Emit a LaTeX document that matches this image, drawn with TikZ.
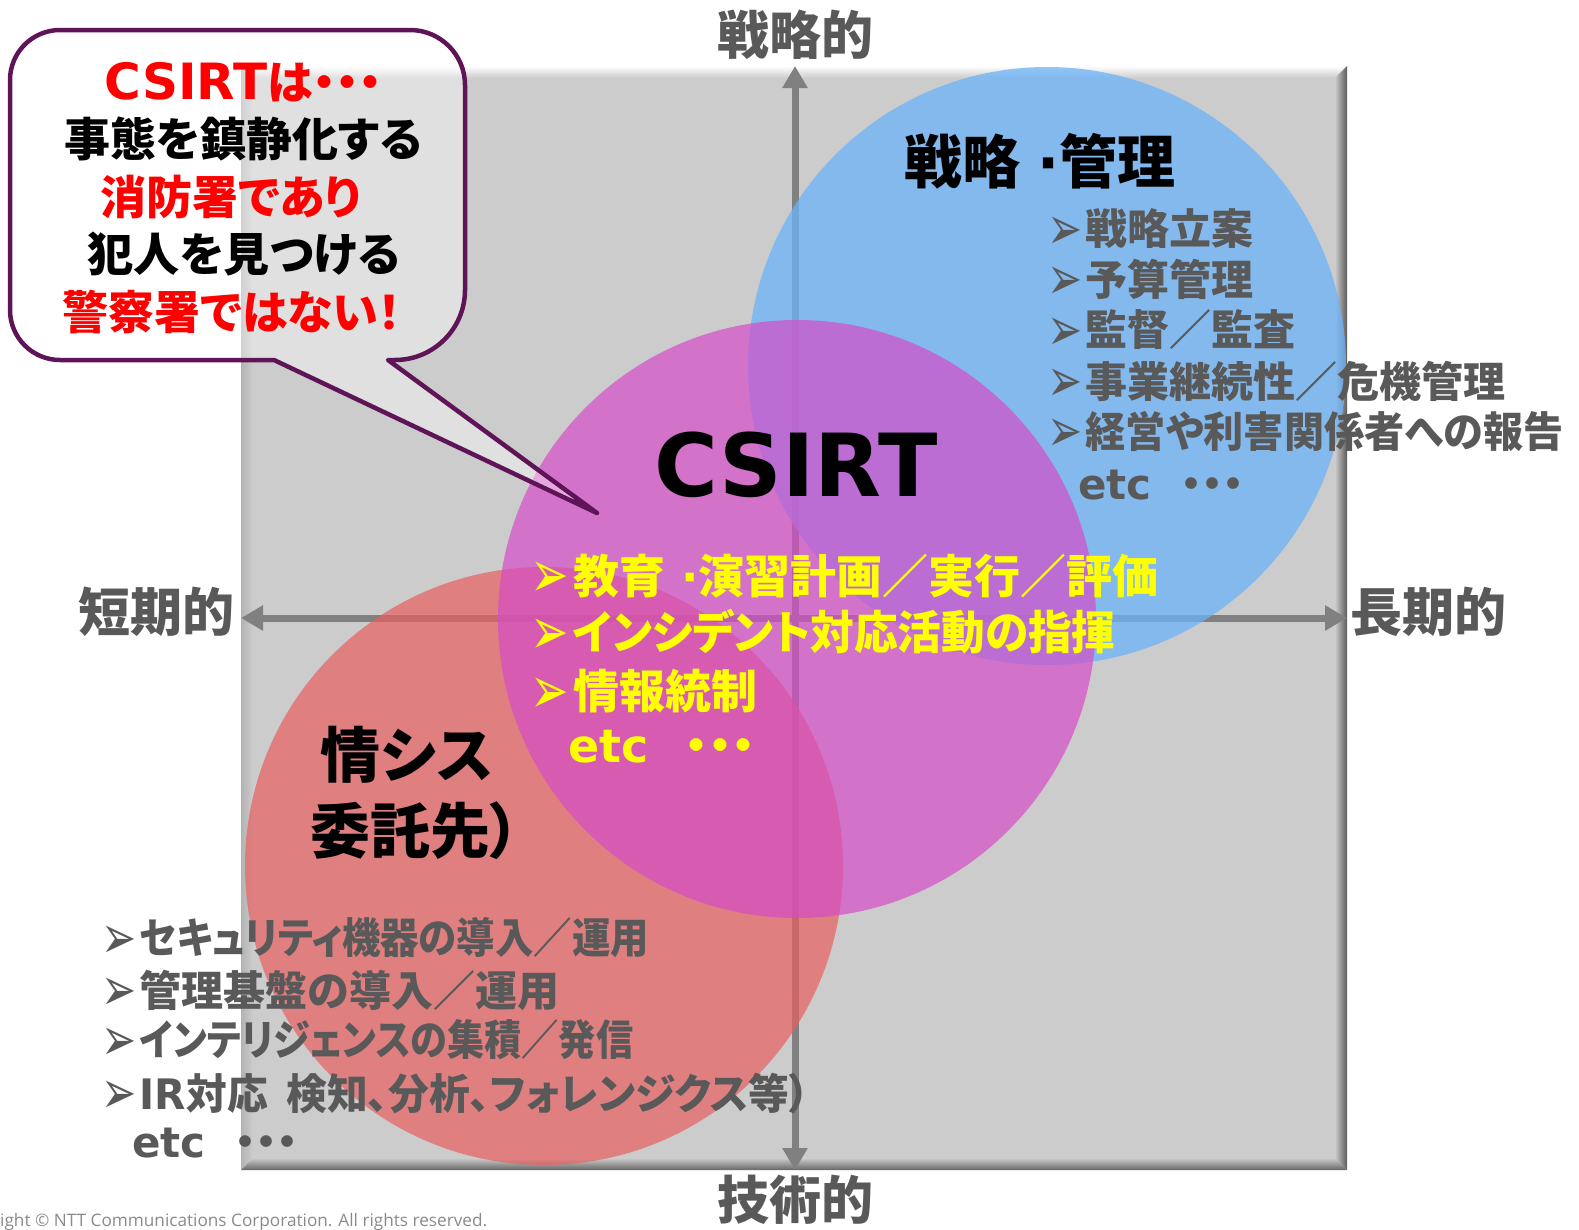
\documentclass[tikz,border=0pt]{standalone}
\usepackage{fontspec}
\usepackage{graphicx}
\usetikzlibrary{arrows.meta}
\newfontfamily\jp{Noto Sans CJK JP}[RawFeature=+palt]
\newfontfamily\jpf{Noto Sans CJK JP}
\newfontfamily\vd{DejaVu Sans}
\newfontfamily\os{Open Sans}
\definecolor{txtgray}{HTML}{595959}
\definecolor{axisgray}{HTML}{808080}
\definecolor{sqgray}{HTML}{CCCCCC}
\definecolor{cblue}{RGB}{109,179,249}
\definecolor{cmag}{RGB}{213,77,200}
\definecolor{cred}{RGB}{233,95,95}
\definecolor{callborder}{RGB}{96,20,88}
\definecolor{yel}{HTML}{FFFF00}
\definecolor{redtxt}{HTML}{FF0000}
\definecolor{copygray}{HTML}{8A8A8A}
\newcommand\arw{\makebox[0.8em][l]{\hspace{-0.12em}\smash{\raisebox{-0.1em}{\scalebox{1.0}[1.45]{\vd\bfseries ➢}}}}}
\newcommand\sx[2]{\scalebox{#1}[1]{#2}}
\newcommand\mdot{{\vd\bfseries ·}}
\tikzset{
  circ/.style={circle, minimum size=598pt, inner sep=0pt, draw=none},
  axisline/.style={draw=axisgray, line width=7pt, {Triangle[length=22pt,width=24pt]}-{Triangle[length=22pt,width=24pt]}},
  axlabel/.style={font=\jp\bfseries\fontsize{52}{60}\selectfont, text=txtgray, inner sep=0pt},
  graylist/.style={anchor=west, inner sep=0pt, font=\jp\bfseries\fontsize{42}{50}\selectfont, text=txtgray},
  yellist/.style={anchor=west, inner sep=0pt, font=\jp\bfseries\fontsize{46}{54}\selectfont, text=yel},
  calltext/.style={inner sep=0pt, font=\jp\bfseries\fontsize{46}{54}\selectfont},
  bigtitle/.style={inner sep=0pt, font=\jp\bfseries\fontsize{#1}{#1}\selectfont},
}
\begin{document}
\begin{tikzpicture}[x=1pt,y=-1pt]
\useasboundingbox (0,0) rectangle (1579,1229);
% square with bevel
\fill[sqgray] (241,66) rectangle (1347,1170);
\shade[left color=black!30, middle color=white, right color=sqgray] (241,66) -- (253,78) -- (253,1158) -- (241,1170) -- cycle;
\shade[top color=white, middle color=black!12, bottom color=sqgray] (241,66) -- (1347,66) -- (1335,78) -- (253,78) -- cycle;
\shade[left color=sqgray, right color=black!65] (1347,66) -- (1347,1170) -- (1335,1158) -- (1335,78) -- cycle;
\shade[top color=sqgray, bottom color=black!60] (241,1170) -- (1347,1170) -- (1335,1158) -- (253,1158) -- cycle;
% axes
\coordinate (vt) at (795,66);
\coordinate (vb) at (795,1170);
\coordinate (hl) at (241,618);
\coordinate (hr) at (1347,618);
\draw[axisline] (vt) -- (vb);
\draw[axisline] (hl) -- (hr);
\node[axlabel] (ltop) at (795,35) {戦略的};
\node[axlabel] (lbot) at (795,1200) {技術的};
\node[axlabel] (lleft) at (156,612) {短期的};
\node[axlabel] (lright) at (1428,612) {長期的};
% circles
\node[circ, fill=cred, fill opacity=0.7] (red) at (544,866) {};
\node[circ, fill=cblue, fill opacity=0.75] (blue) at (1047,366) {};
\node[circ, fill=cmag, fill opacity=0.7] (mag) at (797,619) {};
% top-right texts
\node[bigtitle=58, anchor=west] (sm) at (904,161) {戦略\hspace{0.3em}\mdot 管理};
\node[graylist] (s1) at (1052,229) {\arw 戦略立案};
\node[graylist] (s2) at (1052,279) {\arw 予算管理};
\node[graylist] (s3) at (1052,330) {\arw 監督／監査};
\node[graylist] (s4) at (1052,381) {\arw 事業継続性／危機管理};
\node[graylist] (s5) at (1052,431) {\arw \sx{0.955}{経営や利害関係者への報告}};
\node[graylist] (s6) at (1078,485) {{\vd\bfseries etc}\hspace{0.7em}・・・};
% center
\node[inner sep=0pt, font=\vd\bfseries\fontsize{87}{90}\selectfont] (cs) at (796,465) {CSIRT};
\node[yellist] (y1) at (536,576) {\arw 教育\hspace{0.35em}\mdot 演習計画／実行／評価};
\node[yellist] (y2) at (536,632) {\arw \sx{0.95}{インシデント対応活動の指揮}};
\node[yellist] (y3) at (536,691) {\arw 情報統制};
\node[yellist] (y4) at (568,747) {{\vd\bfseries etc}\hspace{0.8em}・・・};
% bottom-left
\node[bigtitle=60] (js1) at (407,755) {情シス};
\node[bigtitle=60] (js2) at (415,831) {委託先）};
\node[graylist] (b1) at (106,938) {\arw \sx{0.915}{セキュリティ機器の導入／運用}};
\node[graylist] (b2) at (106,990) {\arw 管理基盤の導入／運用};
\node[graylist] (b3) at (106,1040) {\arw \sx{0.885}{インテリジェンスの集積／発信}};
\node[graylist] (b4) at (106,1093) {\arw \sx{0.97}{{\vd\bfseries IR}対応\ \ 検知、分析、フォレンジクス等）}};
\node[graylist] (b5) at (132,1143) {{\vd\bfseries etc}\hspace{0.7em}・・・};
% callout
\filldraw[fill=white, fill opacity=0.4, draw=callborder, line width=4.5pt, line join=round]
  (274,360) -- (60,360) arc[start angle=90, end angle=180, radius=50]
  -- (10,80) arc[start angle=180, end angle=270, radius=50]
  -- (410,30) arc[start angle=270, end angle=360, radius=55]
  -- (465,290) arc[start angle=0, end angle=90, radius=70]
  -- (388,360) -- (597,513) -- cycle;
\node[calltext, text=redtxt] (c1) at (243,82) {{\vd\bfseries\fontsize{50}{54}\selectfont CSIRT}は・・・};
\node[calltext] (c2) at (243,139) {事態を鎮静化する};
\node[calltext, text=redtxt] (c3) at (231,197) {消防署であり};
\node[calltext] (c4) at (244,254) {犯人を見つける};
\node[calltext, text=redtxt] (c5) at (232,312) {警察署ではない！};
% copyright
\node[anchor=west, inner sep=0pt, font=\os\fontsize{17.2}{19}\selectfont, text=copygray] (cp) at (0,1222) {ight © NTT Communications Corporation. All rights reserved.};
\end{tikzpicture}
\end{document}
